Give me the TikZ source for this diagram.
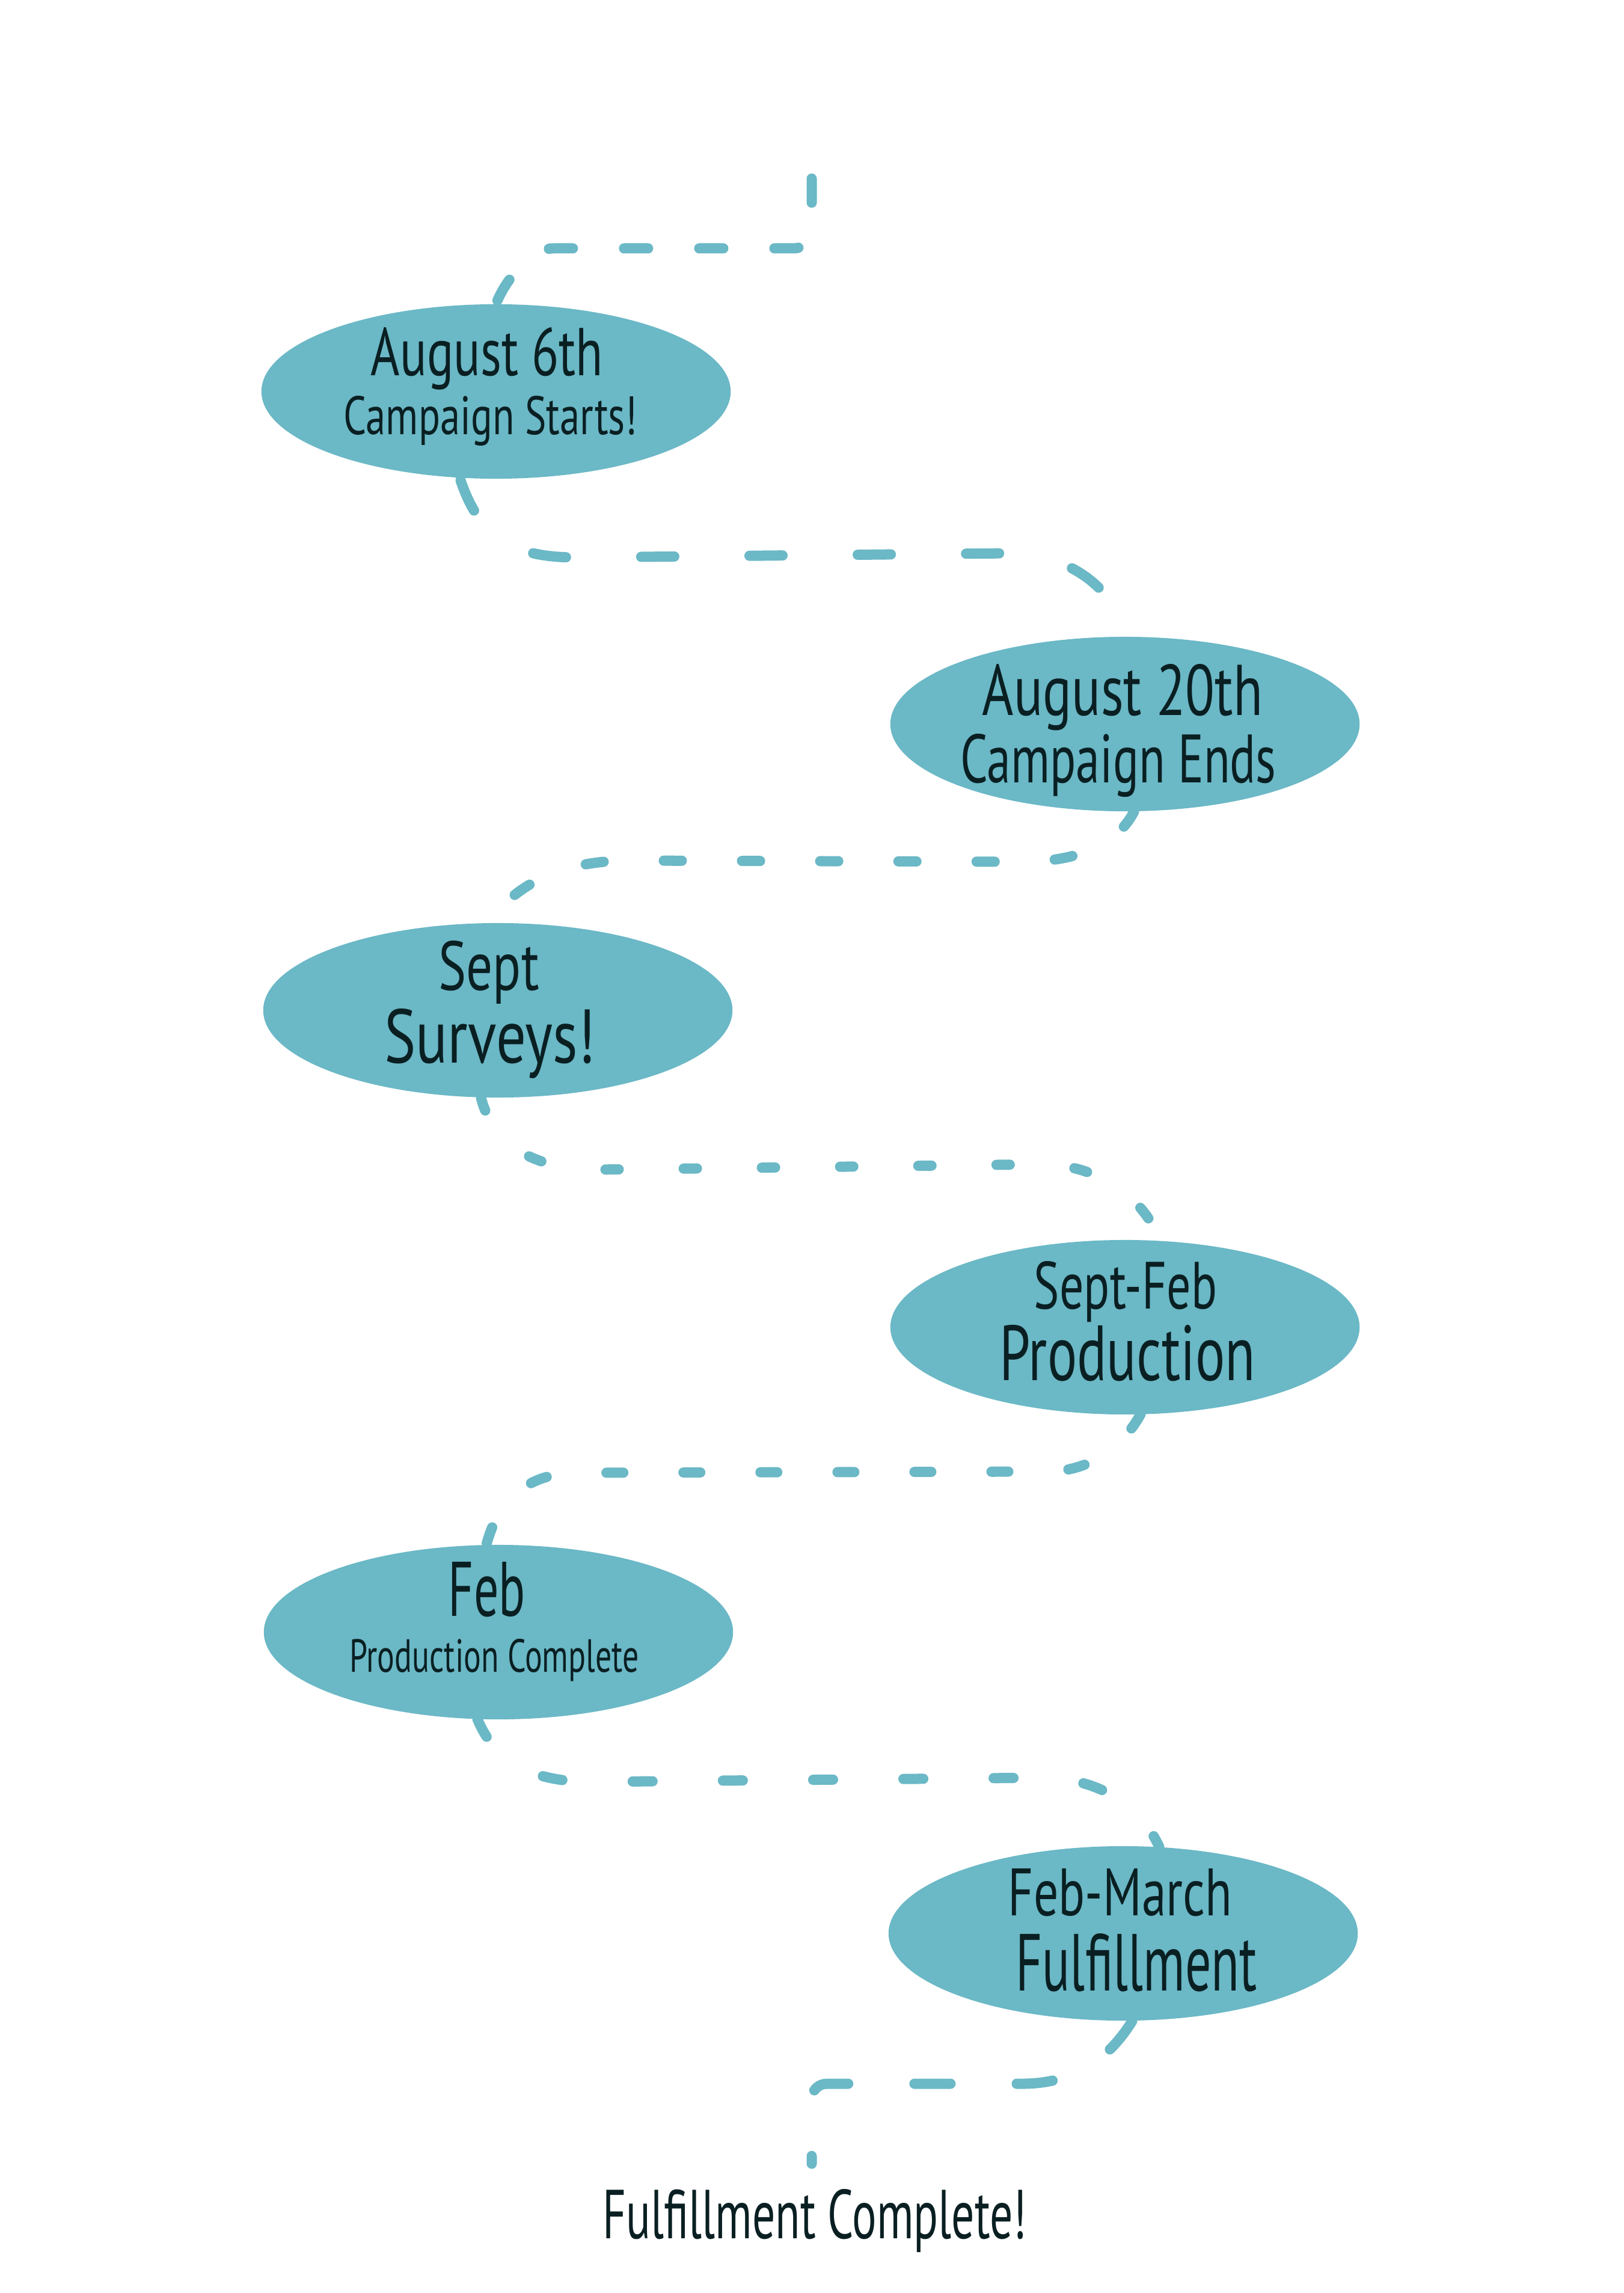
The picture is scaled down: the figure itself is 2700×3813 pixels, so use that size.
\documentclass[tikz,border=0pt]{standalone}
\usepackage{fontspec}
\setmainfont{PT Sans}
\usepackage{graphicx}
\usetikzlibrary{shapes.geometric,calc}
\definecolor{tlc}{HTML}{6BB8C6}
\definecolor{ink}{HTML}{0A1F22}
\newcommand{\fitt}[3]{\resizebox{#1}{#2}{#3}}
\begin{document}
\begin{tikzpicture}[x=0.01cm,y=-0.01cm,
  ell/.style={ellipse, fill=tlc, draw=none, minimum width=7.8cm, minimum height=2.9cm, inner sep=0pt},
  txt/.style={anchor=base, inner sep=0pt, text=ink},
  conn/.style={draw=tlc, line width=0.17cm, line cap=round, line join=round}]
\fill[white] (0,0) rectangle (2700,3813);
\useasboundingbox (0,0) rectangle (2700,3813);

% ellipses
\node[ell] (e1) at (825,651) {};
\node[ell] (e2) at (1871,1204) {};
\node[ell] (e3) at (828,1680) {};
\node[ell] (e4) at (1871,2207) {};
\node[ell] (e5) at (829,2714) {};
\node[ell] (e6) at (1868,3215) {};

% free ends
\coordinate (s0) at (1350,297);
\coordinate (fin) at (1350,3598);

% connectors
\draw[conn, dash pattern=on 0.40cm off 0.85cm]
  (s0) [rounded corners=0.3cm] -- (1350,413) -- (950,413) [sharp corners]
  .. controls (890,413) and (845,455) .. (e1.north);
\draw[conn, dash pattern=on 0.55cm off 1.25cm]
  ($(e1.south)+(-59,2)$) .. controls (800,900) and (860,927) .. (960,927)
  -- (1680,920) .. controls (1790,922) and (1860,990) .. (e2.north);
\draw[conn, dash pattern=on 0.30cm off 1.00cm]
  ($(e2.south)+(15,0)$) .. controls (1860,1400) and (1800,1433) .. (1700,1433)
  -- (1040,1431) .. controls (920,1433) and (850,1480) .. ($(e3.north)+(-15,0)$);
\draw[conn, dash pattern=on 0.22cm off 1.08cm]
  ($(e3.south)+(-28,0)$) .. controls (820,1900) and (880,1943) .. (990,1945)
  -- (1740,1936) .. controls (1830,1940) and (1900,1990) .. ($(e4.north)+(59,2)$);
\draw[conn, dash pattern=on 0.28cm off 1.00cm]
  ($(e4.south)+(26,-1)$) .. controls (1870,2400) and (1820,2447) .. (1740,2447)
  -- (960,2449) .. controls (880,2450) and (830,2490) .. ($(e5.north)+(-20,0)$);
\draw[conn, dash pattern=on 0.33cm off 1.17cm]
  ($(e5.south)+(-35,-1)$) .. controls (820,2920) and (870,2962) .. (980,2963)
  -- (1740,2956) .. controls (1840,2960) and (1900,3010) .. ($(e6.north)+(60,2)$);
\draw[conn, dash pattern=on 0.60cm off 1.10cm]
  ($(e6.south)+(15,0)$) .. controls (1840,3430) and (1780,3465) .. (1700,3465)
  [rounded corners=0.25cm] -- (1350,3465) -- (fin);

% texts
\node[txt] (t1a) at (810,625) {\fitt{3.86cm}{0.80cm}{August 6th}};
\node[txt] (t1b) at (816,723) {\fitt{4.88cm}{0.64cm}{Campaign Starts!}};
\node[txt] (t2a) at (1867,1189) {\fitt{4.66cm}{0.85cm}{August 20th}};
\node[txt] (t2b) at (1860,1301) {\fitt{5.25cm}{0.81cm}{Campaign Ends}};
\node[txt] (t3a) at (813,1646) {\fitt{1.67cm}{0.82cm}{Sept}};
\node[txt] (t3b) at (815,1767) {\fitt{3.51cm}{0.90cm}{Surveys!}};
\node[txt] (t4a) at (1872,2176) {\fitt{3.04cm}{0.79cm}{Sept-Feb}};
\node[txt] (t4b) at (1875,2295) {\fitt{4.25cm}{0.92cm}{Production}};
\node[txt] (t5a) at (810,2687) {\fitt{1.28cm}{0.90cm}{Feb}};
\node[txt] (t5b) at (822,2780) {\fitt{4.81cm}{0.55cm}{Production Complete}};
\node[txt] (t6a) at (1863,3185) {\fitt{3.72cm}{0.78cm}{Feb-March}};
\node[txt] (t6b) at (1890,3310) {\fitt{4.01cm}{0.95cm}{Fulfillment}};
\node[txt] (fc) at (1355,3722) {\fitt{7.05cm}{0.82cm}{Fulfillment Complete!}};
\end{tikzpicture}
\end{document}
